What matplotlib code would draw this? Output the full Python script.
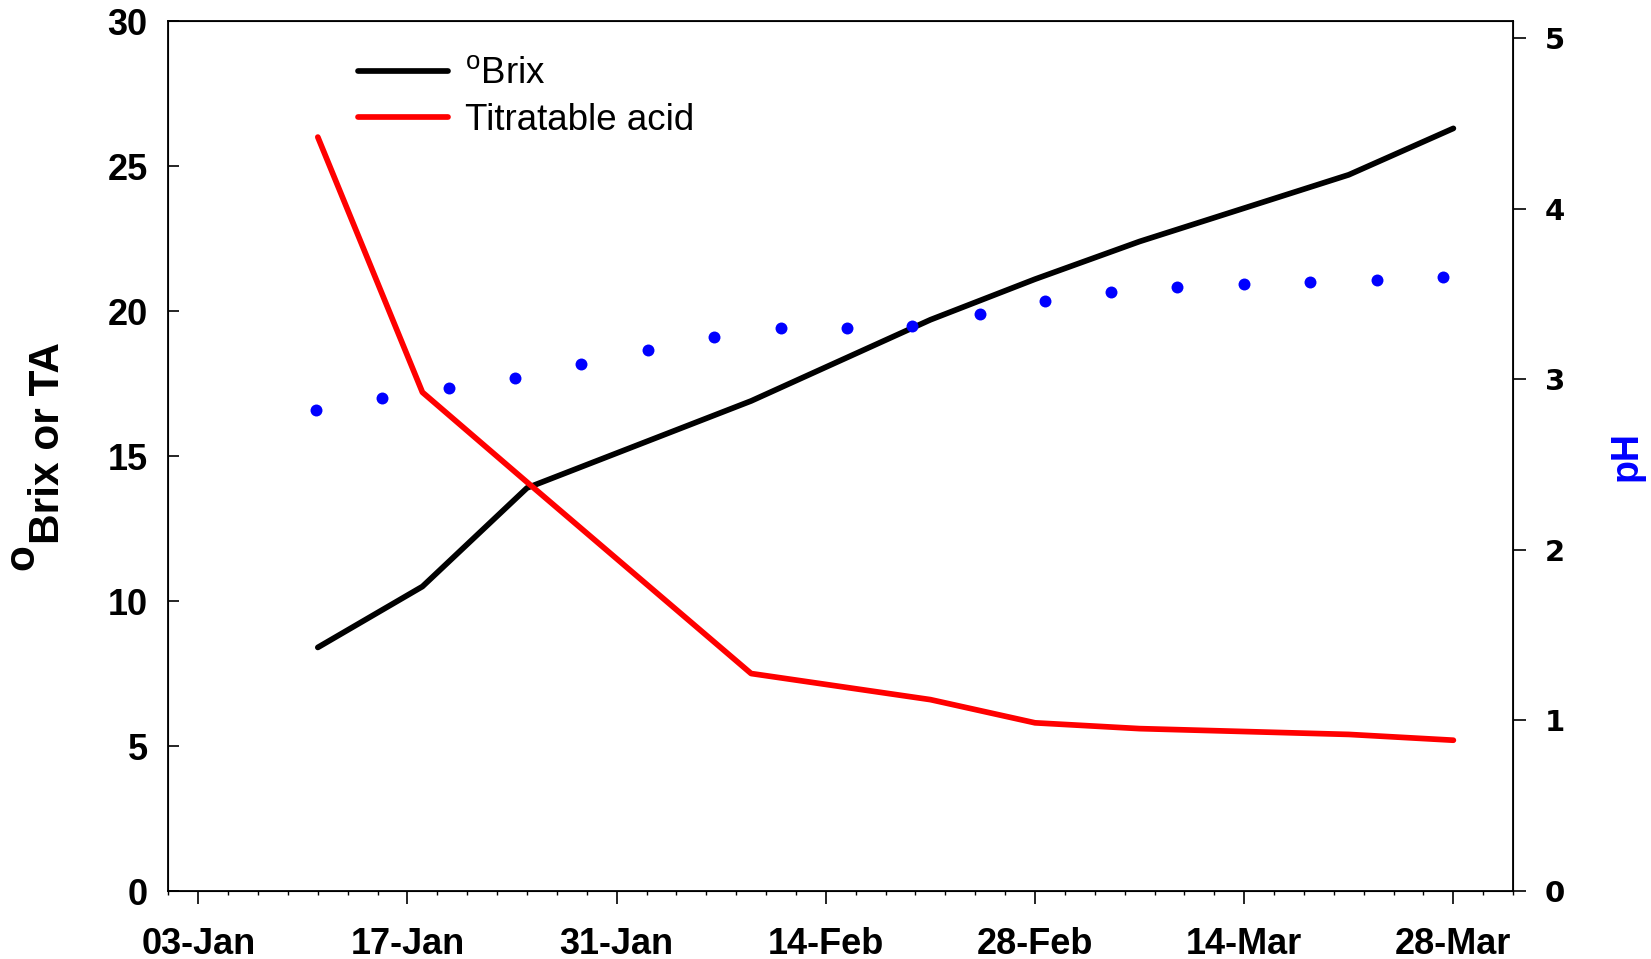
import matplotlib
matplotlib.use('Agg')
import matplotlib.pyplot as plt
import matplotlib.dates as mdates

plt.rcParams['mathtext.fontset'] = 'custom'
plt.rcParams['mathtext.rm'] = 'Liberation Sans'
plt.rcParams['mathtext.bf'] = 'Liberation Sans:bold'
plt.rcParams['font.family'] = ['Liberation Sans', 'DejaVu Sans']

# ---- data ----
line_dates = ['2011-01-11', '2011-01-18', '2011-01-25', '2011-02-09', '2011-02-21',
              '2011-02-28', '2011-03-07', '2011-03-21', '2011-03-28']
brix = [8.4, 10.5, 13.9, 16.9, 19.7, 21.1, 22.4, 24.7, 26.3]
titratable_acid = [26.0, 17.2, 14.1, 7.5, 6.6, 5.8, 5.6, 5.4, 5.2]

ph_base_date = '2011-01-03'
ph_day_offsets = [7.9, 12.3, 16.8, 21.2, 25.6, 30.1, 34.5, 39.0, 43.4,
                  47.8, 52.3, 56.7, 61.1, 65.5, 70.0, 74.4, 78.9, 83.3]
ph = [2.82, 2.89, 2.95, 3.01, 3.09, 3.17, 3.25, 3.30, 3.30,
      3.31, 3.38, 3.46, 3.51, 3.54, 3.56, 3.57, 3.58, 3.60]

tick_dates = ['2011-01-03', '2011-01-17', '2011-01-31', '2011-02-14',
              '2011-02-28', '2011-03-14', '2011-03-28']
left_ticks = [0, 5, 10, 15, 20, 25, 30]
right_ticks = [0, 1, 2, 3, 4, 5]

# ---- figure ----
fig = plt.figure(figsize=(16.51, 9.59), dpi=100)
ax = fig.add_axes([0.102, 0.0709, 0.8145, 0.9071])

xd = [mdates.datestr2num(d) for d in line_dates]
base = mdates.datestr2num(ph_base_date)
xph = [base + o for o in ph_day_offsets]

ax.plot(xd, brix, color='black', lw=4.1, solid_joinstyle='round',
        solid_capstyle='round', label=r'$^{\mathrm{o}}$Brix', zorder=3)
ax.plot(xd, titratable_acid, color='#ff0000', lw=4.1, solid_joinstyle='round',
        solid_capstyle='round', label='Titratable acid', zorder=4)

ax.set_xlim(mdates.datestr2num('2011-01-01'), mdates.datestr2num('2011-04-01'))
ax.set_ylim(0, 30)
ax.set_xticks([mdates.datestr2num(d) for d in tick_dates])
ax.xaxis.set_major_formatter(mdates.DateFormatter('%d-%b'))
ax.xaxis.set_minor_locator(mdates.DayLocator(interval=2, bymonthday=range(1, 32)))
ax.set_yticks(left_ticks)

ax.tick_params(axis='x', which='major', direction='out', length=9, width=1.2,
               pad=17, labelsize=26)
ax.tick_params(axis='x', which='minor', direction='out', length=3, width=1.0)
ax.tick_params(axis='y', which='major', direction='in', length=8, width=1.2,
               pad=15, labelsize=26)
for lab in ax.get_xticklabels() + ax.get_yticklabels():
    lab.set_fontweight('bold')

for s in ax.spines.values():
    s.set_linewidth(1.3)

ax.set_ylabel('Brix or TA', fontsize=30.5, fontweight='bold')
ax.yaxis.set_label_coords(-0.075, 0.5155)
fig.text(0.0133, 1 - 557 / 959, 'o', rotation=90, fontsize=30.5,
         fontweight='bold', ha='center', va='center')

leg = ax.legend(loc='upper left', bbox_to_anchor=(358 / 1651, 1 - 57 / 959),
                bbox_transform=fig.transFigure, frameon=False, fontsize=26.5,
                borderpad=0, borderaxespad=0, handlelength=2.45,
                handletextpad=0.45, labelspacing=0.3)

ax2 = ax.twinx()
ax2.plot(xph, ph, linestyle='none', marker='o', markersize=8.6, color='#0000ff',
         markeredgewidth=0, zorder=5)
ax2.set_ylim(0, 5.1)
ax2.set_yticks(right_ticks)
ax2.tick_params(axis='y', direction='out', length=9, width=1.2, pad=14,
                labelsize=21)
for lab in ax2.get_yticklabels():
    lab.set_fontfamily('DejaVu Sans')
    lab.set_fontweight('bold')
ax2.set_ylabel('pH', fontsize=27, fontweight='bold', color='#0000ff')
ax2.yaxis.set_label_coords(1.0707, 0.5)

fig.savefig('out.png', dpi=100)
